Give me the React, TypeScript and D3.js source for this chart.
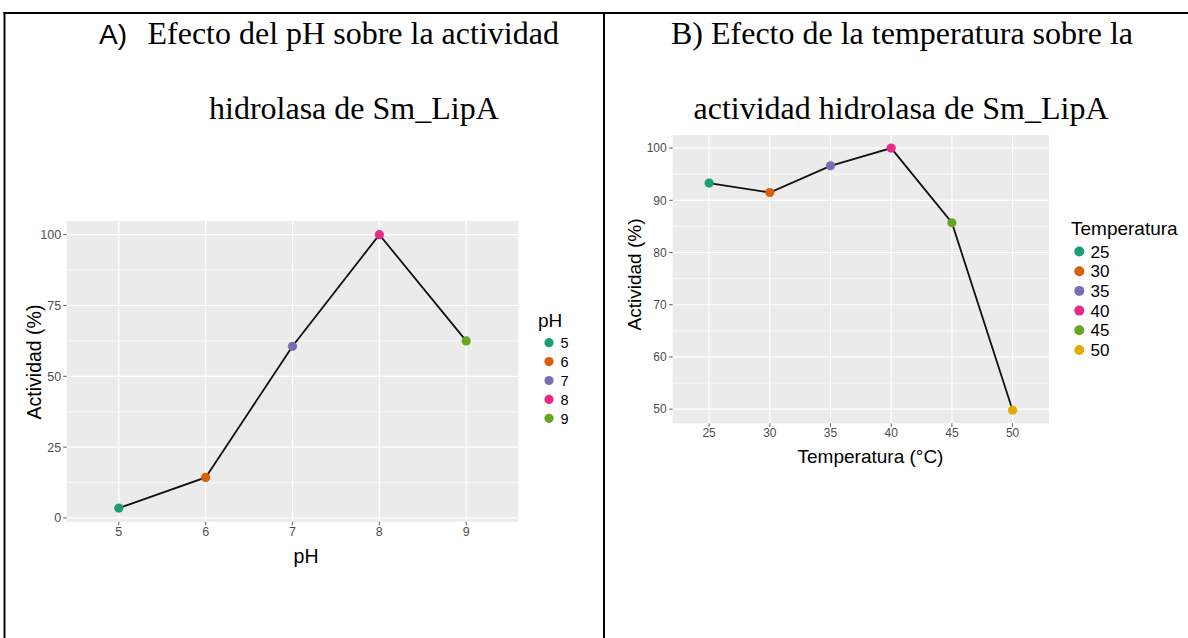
import React from "react";
import * as d3 from "d3";

const phCategories = ["5", "6", "7", "8", "9"];
const phActivity = [3.5, 14.3, 60.6, 100, 62.5];
const phYTicks = [0, 25, 50, 75, 100];
const phYMinor = [12.5, 37.5, 62.5, 87.5];

const tempCategories = ["25", "30", "35", "40", "45", "50"];
const tempActivity = [93.3, 91.5, 96.6, 100, 85.7, 49.8];
const tempYTicks = [50, 60, 70, 80, 90, 100];
const tempYMinor = [55, 65, 75, 85, 95];

const palette = ["#1B9E77", "#D95F02", "#7570B3", "#E7298A", "#66A61E", "#E6AB02"];

const SANS = "'Liberation Sans', Arial, Helvetica, sans-serif";
const SERIF = "'Liberation Serif', 'Times New Roman', serif";

type PanelProps = {
  cats: string[];
  vals: number[];
  yTicks: number[];
  yMinor: number[];
  box: { l: number; r: number; t: number; b: number };
  tickFont: number;
  yLabelGap: number;
  xLabelOffset: number;
  xTitle: string;
  xTitlePos: [number, number];
  yTitlePos: [number, number];
  titleFont: number;
  legendTitle: string;
  legend: { titleX: number; titleY: number; titleFont: number; keyX: number; keyY0: number; keyStep: number; labelX: number; labelFont: number; r: number };
  pointR: number;
};

function Panel(p: PanelProps) {
  const { box } = p;
  const ext = d3.extent(p.vals) as [number, number];
  const pad = (ext[1] - ext[0]) * 0.05;
  const x = d3.scalePoint<string>().domain(p.cats).range([box.l, box.r]).padding(0.6);
  const y = d3.scaleLinear().domain([ext[0] - pad, ext[1] + pad]).range([box.b, box.t]);
  const line = d3
    .line<number>()
    .x((_, i) => x(p.cats[i]) as number)
    .y((v) => y(v));
  return (
    <g>
      <rect x={box.l} y={box.t} width={box.r - box.l} height={box.b - box.t} fill="#EBEBEB" />
      {p.yMinor.map((v) => (
        <line key={"mn" + v} x1={box.l} x2={box.r} y1={y(v)} y2={y(v)} stroke="#fff" strokeWidth={0.6} />
      ))}
      {p.yTicks.map((v) => (
        <line key={"mj" + v} x1={box.l} x2={box.r} y1={y(v)} y2={y(v)} stroke="#fff" strokeWidth={1.2} />
      ))}
      {p.cats.map((c) => (
        <line key={"vx" + c} x1={x(c)} x2={x(c)} y1={box.t} y2={box.b} stroke="#fff" strokeWidth={1.2} />
      ))}
      <path d={line(p.vals) || ""} fill="none" stroke="#111" strokeWidth={1.8} />
      {p.vals.map((v, i) => (
        <circle key={"pt" + i} cx={x(p.cats[i])} cy={y(v)} r={p.pointR} fill={palette[i]} />
      ))}
      {p.yTicks.map((v) => (
        <g key={"yt" + v}>
          <line x1={box.l - 3.5} x2={box.l} y1={y(v)} y2={y(v)} stroke="#333" strokeWidth={0.8} />
          <text
            x={box.l - p.yLabelGap}
            y={y(v)}
            dy="0.35em"
            textAnchor="end"
            fontFamily={SANS}
            fontSize={p.tickFont}
            fill="#4D4D4D"
          >
            {v}
          </text>
        </g>
      ))}
      {p.cats.map((c) => (
        <g key={"xt" + c}>
          <line x1={x(c)} x2={x(c)} y1={box.b} y2={box.b + 3.5} stroke="#333" strokeWidth={0.8} />
          <text
            x={x(c)}
            y={box.b + p.xLabelOffset}
            textAnchor="middle"
            fontFamily={SANS}
            fontSize={p.tickFont}
            fill="#4D4D4D"
          >
            {c}
          </text>
        </g>
      ))}
      <text x={p.xTitlePos[0]} y={p.xTitlePos[1]} textAnchor="middle" fontFamily={SANS} fontSize={p.titleFont} fill="#000">
        {p.xTitle}
      </text>
      <text
        transform={`translate(${p.yTitlePos[0]},${p.yTitlePos[1]}) rotate(-90)`}
        textAnchor="middle"
        fontFamily={SANS}
        fontSize={p.titleFont}
        fill="#000"
      >
        Actividad (%)
      </text>
      <text x={p.legend.titleX} y={p.legend.titleY} fontFamily={SANS} fontSize={p.legend.titleFont} fill="#000">
        {p.legendTitle}
      </text>
      {p.cats.map((c, i) => (
        <g key={"lg" + c}>
          <circle cx={p.legend.keyX} cy={p.legend.keyY0 + i * p.legend.keyStep} r={p.legend.r} fill={palette[i]} />
          <text
            x={p.legend.labelX}
            y={p.legend.keyY0 + i * p.legend.keyStep}
            dy="0.36em"
            fontFamily={SANS}
            fontSize={p.legend.labelFont}
            fill="#000"
          >
            {c}
          </text>
        </g>
      ))}
    </g>
  );
}

export default function App() {
  return (
    <div style={{ position: "absolute", left: 0, top: 0 }}>
      <svg width={1188} height={638} style={{ display: "block", background: "#fff" }}>
        {/* table borders */}
        <line x1={3.5} x2={1188} y1={13} y2={13} stroke="#000" strokeWidth={2} />
        <line x1={4.5} x2={4.5} y1={12} y2={638} stroke="#000" strokeWidth={2} />
        <line x1={604} x2={604} y1={12} y2={638} stroke="#000" strokeWidth={2} />

        {/* titles */}
        <text x={99} y={44} fontFamily={SANS} fontSize={28} fill="#000">A)</text>
        <text x={147.5} y={44} fontFamily={SERIF} fontSize={32} fill="#000">Efecto del pH sobre la actividad</text>
        <text x={209} y={119} fontFamily={SERIF} fontSize={32} fill="#000">hidrolasa de Sm_LipA</text>
        <text x={902} y={44} textAnchor="middle" fontFamily={SERIF} fontSize={32} fill="#000">
          B) Efecto de la temperatura sobre la
        </text>
        <text x={901} y={119} textAnchor="middle" fontFamily={SERIF} fontSize={32} fill="#000">
          actividad hidrolasa de Sm_LipA
        </text>

        <Panel
          cats={phCategories}
          vals={phActivity}
          yTicks={phYTicks}
          yMinor={phYMinor}
          box={{ l: 66.7, r: 518.3, t: 221, b: 521.7 }}
          tickFont={12.5}
          yLabelGap={5.5}
          xLabelOffset={14}
          xTitle="pH"
          xTitlePos={[306, 562.5]}
          yTitlePos={[41, 362]}
          titleFont={19.5}
          legendTitle="pH"
          legend={{ titleX: 538, titleY: 327, titleFont: 19, keyX: 549, keyY0: 342.7, keyStep: 18.9, labelX: 560.5, labelFont: 14.5, r: 4.6 }}
          pointR={4.6}
        />
        <Panel
          cats={tempCategories}
          vals={tempActivity}
          yTicks={tempYTicks}
          yMinor={tempYMinor}
          box={{ l: 672.7, r: 1049, t: 135, b: 423.3 }}
          tickFont={12}
          yLabelGap={6}
          xLabelOffset={14}
          xTitle="Temperatura (°C)"
          xTitlePos={[870.5, 463.3]}
          yTitlePos={[641, 274.5]}
          titleFont={19}
          legendTitle="Temperatura"
          legend={{ titleX: 1071, titleY: 235, titleFont: 19, keyX: 1079.3, keyY0: 251.5, keyStep: 19.7, labelX: 1090.6, labelFont: 17, r: 5 }}
          pointR={4.6}
        />
      </svg>
    </div>
  );
}
